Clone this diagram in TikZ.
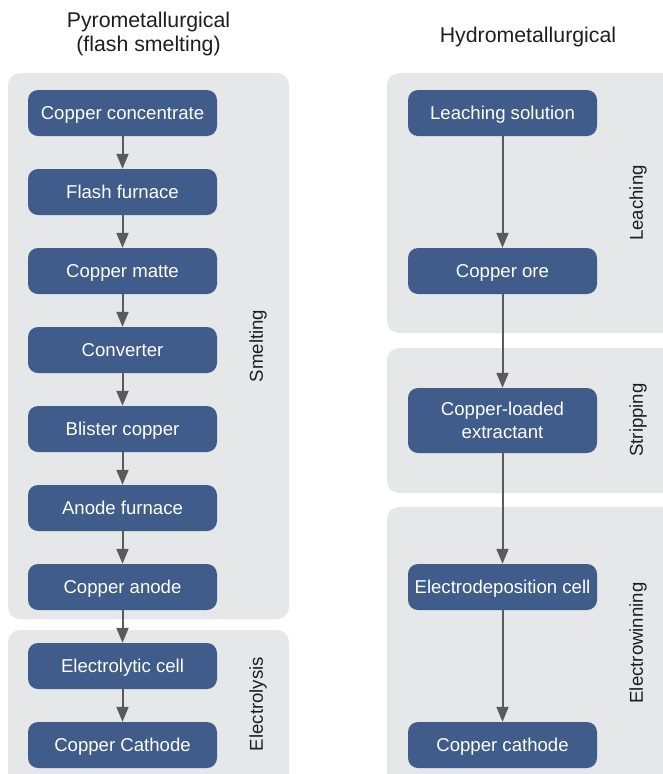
\documentclass[tikz,border=0pt]{standalone}
\usepackage{fontspec}
\setmainfont{Liberation Sans}
\usetikzlibrary{arrows.meta}

\definecolor{stepblue}{HTML}{405C8A}
\definecolor{panelgray}{HTML}{E6E7E9}
\definecolor{linkgray}{HTML}{5A5A5A}
\definecolor{inktext}{HTML}{1E1E1E}

\tikzset{
  stepbase/.style={draw=none, fill=stepblue, rounded corners=10pt,
    minimum width=189pt, minimum height=46pt, inner sep=2pt,
    text=white, align=center,
    font=\fontsize{18.6}{23}\selectfont},
  stepbox/.style={stepbase, text height=16.8pt, text depth=3.9pt},
  panel/.style={fill=panelgray, rounded corners=12pt},
  phase/.style={rotate=90, text=inktext, font=\fontsize{18.6}{22}\selectfont},
  heading/.style={text=inktext, align=center, font=\fontsize{21.3}{24}\selectfont},
  flow/.style={draw=linkgray, line width=2pt,
    -{Triangle[width=12pt,length=15pt]}},
}

\begin{document}
\begin{tikzpicture}[x=1pt,y=-1pt]
  \useasboundingbox (0,0) rectangle (663,774);
  \clip (0,0) rectangle (663,774);

  % background panels for the process stages
  \path[panel] (8,73) rectangle (289,619);
  \path[panel] (8,630) rectangle (289,800);
  \path[panel] (387,73) rectangle (690,333);
  \path[panel] (387,348) rectangle (690,493);
  \path[panel] (387,507) rectangle (690,800);

  % column headings
  \node[heading] (pyro) at (148.5,34) {Pyrometallurgical\\(flash smelting)};
  \node[heading] (hydro) at (528,37) {Hydrometallurgical};

  % stage labels
  \node[phase] (smelt) at (258,346) {Smelting};
  \node[phase] (elys) at (258,704) {Electrolysis};
  \node[phase] (leach) at (638,203) {Leaching};
  \node[phase] (strip) at (638,420) {Stripping};
  \node[phase] (ewin) at (638,643) {Electrowinning};

  % flash smelting route
  \node[stepbox] (cc) at (122.5,113) {Copper concentrate};
  \node[stepbox] (ff) at (122.5,192) {Flash furnace};
  \node[stepbox] (cm) at (122.5,271) {Copper matte};
  \node[stepbox] (cv) at (122.5,350) {Converter};
  \node[stepbox] (bc) at (122.5,429) {Blister copper};
  \node[stepbox] (af) at (122.5,508) {Anode furnace};
  \node[stepbox] (ca) at (122.5,587) {Copper anode};
  \node[stepbox] (ec) at (122.5,666) {Electrolytic cell};
  \node[stepbox] (ck) at (122.5,745) {Copper Cathode};

  % hydrometallurgical route
  \node[stepbox] (ls) at (502.5,113) {Leaching solution};
  \node[stepbox] (co) at (502.5,271) {Copper ore};
  \node[stepbase, minimum height=65pt] (cle) at (502.5,420.5) {Copper-loaded\\extractant};
  \node[stepbox] (edc) at (502.5,587) {Electrodeposition cell};
  \node[stepbox] (cct) at (502.5,745) {Copper cathode};

  % connectors
  \draw[flow] (cc) -- (ff);
  \draw[flow] (ff) -- (cm);
  \draw[flow] (cm) -- (cv);
  \draw[flow] (cv) -- (bc);
  \draw[flow] (bc) -- (af);
  \draw[flow] (af) -- (ca);
  \draw[flow] (ca) -- (ec);
  \draw[flow] (ec) -- (ck);

  \draw[flow] (ls) -- (co);
  \draw[flow] (co) -- (cle);
  \draw[flow] (cle) -- (edc);
  \draw[flow] (edc) -- (cct);
\end{tikzpicture}
\end{document}
